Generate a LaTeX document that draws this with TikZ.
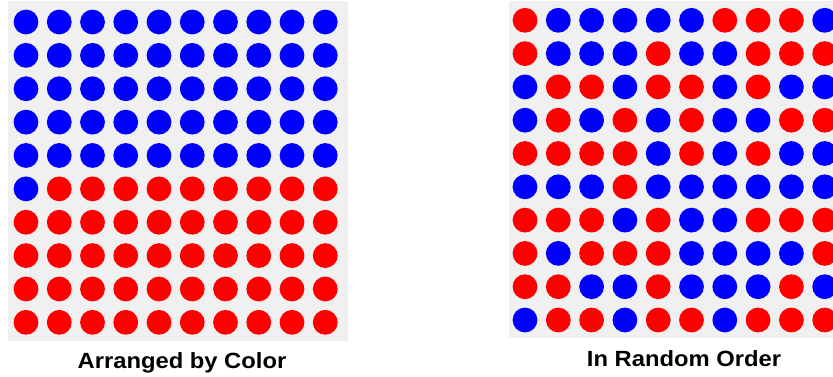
\documentclass[tikz,border=0pt]{standalone}
\usepackage{fontspec}
\setmainfont{Liberation Sans}[FakeStretch=1.08]
\definecolor{bgray}{HTML}{F0F0F0}
\definecolor{dotR}{HTML}{FF0000}
\definecolor{dotB}{HTML}{0000FF}
\tikzset{
  panel/.style={fill=bgray, draw=none},
  dot/.style={circle, minimum size=24.8pt, inner sep=0pt, draw=none},
  caption/.style={font=\bfseries\fontsize{22}{26}\selectfont, anchor=base, inner sep=0pt}
}
\begin{document}
\begin{tikzpicture}[x=1pt,y=-1pt]
\useasboundingbox (0,0) rectangle (833,376);
\clip (0,0) rectangle (833,376);
% left panel
\fill[panel] (8,1) rectangle (348.3,340.7);
\foreach \j in {0,...,9}{
  \foreach \i in {0,...,9}{
    \pgfmathtruncatemacro{\idx}{\j*10+\i}
    \ifnum\idx<51
      \node[dot, fill=dotB] (L-\j-\i) at ({26+33.25*\i},{22+33.37*\j}) {};
    \else
      \node[dot, fill=dotR] (L-\j-\i) at ({26+33.25*\i},{22+33.37*\j}) {};
    \fi
  }
}
\node[caption] (capL) at (182,368) {Arranged by Color};
% right panel
\fill[panel] (509,1) rectangle (850,338.3);
\foreach \row [count=\j from 0] in {
  {R,B,B,B,B,B,R,R,R,B},
  {R,B,B,B,R,B,B,R,R,R},
  {B,R,R,B,R,R,B,R,B,B},
  {B,R,B,R,B,R,B,B,R,R},
  {R,R,R,R,B,R,B,R,B,B},
  {B,B,B,R,B,B,B,B,B,B},
  {R,R,R,B,R,B,B,R,R,R},
  {R,B,R,R,R,B,B,B,B,R},
  {R,R,B,B,R,B,B,B,R,B},
  {B,R,R,B,R,R,B,R,R,R}}{
  \foreach \c [count=\i from 0] in \row {
    \node[dot, fill=dot\c] (R-\j-\i) at ({525+33.3*\i},{20.3+33.3*\j}) {};
  }
}
\node[caption] (capR) at (684,366) {In Random Order};
\end{tikzpicture}
\end{document}
